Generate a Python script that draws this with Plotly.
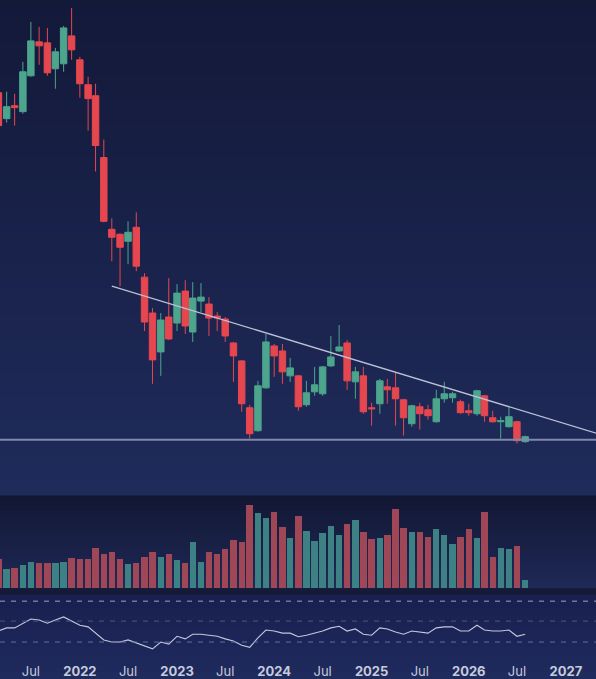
import pandas as pd
import plotly.graph_objects as go

# ---------------- data (monthly candles, Mar 2021 .. Aug 2026) ----------------
MONTHS = pd.date_range("2021-03-01", periods=66, freq="MS")

OPEN = [407, 381, 394, 388, 424, 458, 457, 431, 436, 464, 440, 415, 404, 342, 270, 265,
        258, 272, 222, 186, 147, 182, 176, 208, 167, 198, 195, 183, 180, 156, 138, 91,
        68, 111, 153, 148, 123, 123, 94, 107, 105, 133, 148, 156, 117, 123, 91, 95,
        112, 111, 99, 75, 92, 89, 77, 100, 101, 97, 88, 85, 103, 81, 77, 72, 77, 57]
HIGH = [410, 408, 406, 438, 478, 473, 472, 452, 474, 492, 443, 423, 416, 360, 281, 266,
        278, 287, 226, 191, 186, 221, 215, 219, 217, 216, 202, 187, 182, 157, 139, 94,
        118, 165, 155, 155, 141, 124, 118, 132, 133, 163, 174, 159, 132, 132, 96, 120,
        120, 126, 100, 94, 96, 94, 109, 117, 107, 99, 95, 109, 104, 88, 82, 92, 78, 63]
LOW = [372, 377, 374, 386, 423, 435, 424, 411, 428, 440, 402, 369, 328, 277, 238, 213,
       235, 228, 168, 115, 123, 159, 168, 165, 157, 187, 163, 168, 157, 117, 87, 60,
       67, 110, 122, 115, 117, 88, 92, 103, 103, 132, 147, 109, 100, 85, 73, 85,
       95, 73, 63, 72, 69, 79, 76, 96, 96, 85, 83, 83, 77, 76, 60, 71, 55, 56]
CLOSE = [374, 393, 392, 428, 459, 454, 427, 448, 472, 450, 416, 401, 354, 278, 262, 252,
         267, 233, 177, 139, 179, 160, 206, 173, 201, 202, 181, 181, 163, 143, 95, 65,
         113, 157, 143, 127, 131, 92, 106, 114, 132, 142, 152, 118, 127, 87, 90, 118,
         109, 100, 81, 93, 85, 83, 100, 105, 105, 86, 86, 108, 83, 77, 78, 82, 58, 62]
VOLUME = [29, 19, 20, 23, 26, 25, 25, 25, 26, 30, 29, 29, 40, 34, 36, 29,
          24, 25, 31, 36, 31, 34, 28, 25, 46, 26, 36, 34, 39, 48, 46, 83,
          75, 70, 76, 61, 50, 72, 57, 47, 55, 62, 53, 64, 68, 56, 49, 50,
          53, 79, 60, 56, 56, 51, 59, 53, 44, 51, 59, 50, 76, 31, 40, 39, 42, 8]
RSI = [51, 57, 57, 66, 74, 72, 66, 72, 78, 70, 62, 59, 47, 34, 30, 30,
       34, 28, 22, 17, 30, 26, 41, 36, 45, 45, 43, 41, 36, 32, 24, 20,
       38, 53, 51, 47, 47, 40, 43, 47, 51, 57, 60, 51, 55, 45, 43, 57,
       55, 49, 45, 51, 49, 47, 57, 59, 59, 51, 51, 62, 53, 51, 51, 53, 41, 45]

TREND_DATES = ["2022-05-01", "2027-05-01"]
TREND_PRICES = [213, 65]
SUPPORT = 59
RSI_LEVELS = [70, 30]
RSI_LEVEL_COLORS = ["#4d5787", "#646d98"]

TICK_VALS = ["2021-07-01", "2022-01-01", "2022-07-01", "2023-01-01", "2023-07-01",
             "2024-01-01", "2024-07-01", "2025-01-01", "2025-07-01", "2026-01-01",
             "2026-07-01", "2027-01-01"]
TICK_TEXT = ["Jul", "<b>2022</b>", "Jul", "<b>2023</b>", "Jul", "<b>2024</b>", "Jul",
             "<b>2025</b>", "Jul", "<b>2026</b>", "Jul", "<b>2027</b>"]

# ---------------- style ----------------
W, H = 596, 679
MB = 20
PH = H - MB  # plot area height in px
UP = "#4ca58c"
DOWN = "#e6474f"
VOL_UP = "#3e8184"
VOL_DOWN = "#9f4756"


def py(px):
    """pixel row (from top of the plot area) -> paper fraction"""
    return (PH - px) / PH


X_RANGE = ["2021-03-07", "2027-04-24"]

fig = go.Figure()

fig.add_trace(go.Candlestick(
    x=MONTHS, open=OPEN, high=HIGH, low=LOW, close=CLOSE,
    increasing=dict(line=dict(color=UP, width=1), fillcolor=UP),
    decreasing=dict(line=dict(color=DOWN, width=1), fillcolor=DOWN),
    whiskerwidth=0, xaxis="x", yaxis="y", hoverinfo="skip", showlegend=False,
))

fig.add_trace(go.Scatter(
    x=TREND_DATES, y=TREND_PRICES, mode="lines",
    line=dict(color="#bcc2d6", width=1.3), xaxis="x", yaxis="y",
    hoverinfo="skip", showlegend=False, cliponaxis=True,
))

vol_colors = [VOL_UP if c >= o else VOL_DOWN for o, c in zip(OPEN, CLOSE)]
fig.add_trace(go.Bar(
    x=MONTHS, y=VOLUME, marker=dict(color=vol_colors, line=dict(width=0)),
    width=24 * 86400000, xaxis="x2", yaxis="y2", hoverinfo="skip", showlegend=False,
))

fig.add_trace(go.Scatter(
    x=MONTHS, y=RSI, mode="lines", line=dict(color="#c3c8dc", width=1.1),
    xaxis="x3", yaxis="y3", hoverinfo="skip", showlegend=False,
))

shapes = []


def gradient(top_px, bot_px, c_top, c_bot, n):
    def hx(c):
        c = c.lstrip("#")
        return [int(c[i:i + 2], 16) for i in (0, 2, 4)]
    a, b = hx(c_top), hx(c_bot)
    step = (bot_px - top_px) / n
    for i in range(n):
        t = i / max(n - 1, 1)
        col = "rgb(%d,%d,%d)" % tuple(round(a[j] + (b[j] - a[j]) * t) for j in range(3))
        y0 = top_px + i * step
        y1 = top_px + (i + 1) * step + 0.6
        shapes.append(dict(type="rect", xref="paper", yref="paper", x0=0, x1=1,
                           y0=py(min(y1, bot_px)), y1=py(y0), fillcolor=col,
                           line=dict(width=0), layer="below"))


gradient(0, 497, "#131939", "#1f2b5b", 60)      # price pane
gradient(497, 590, "#121733", "#1e2956", 20)    # volume pane
gradient(590, 597, "#141a37", "#151b39", 1)     # separator strip
gradient(597, 679, "#192050", "#1f2a5d", 16)    # rsi pane

# support line
shapes.append(dict(type="line", xref="paper", yref="y", x0=0, x1=1, y0=SUPPORT, y1=SUPPORT,
                   line=dict(color="#7f89ad", width=2), layer="above"))
# rsi pane separator + levels
shapes.append(dict(type="line", xref="paper", yref="paper", x0=0, x1=1, y0=py(603), y1=py(603),
                   line=dict(color="#9ca3c2", width=1, dash="5px,6px")))
for lv, lc in zip(RSI_LEVELS, RSI_LEVEL_COLORS):
    shapes.append(dict(type="line", xref="paper", yref="y3", x0=0, x1=1, y0=lv, y1=lv,
                       line=dict(color=lc, width=1, dash="5px,6px")))

axis_common = dict(showgrid=False, zeroline=False, showline=False,
                   range=X_RANGE, type="date", fixedrange=True)

fig.update_layout(
    width=W, height=H,
    margin=dict(l=0, r=0, t=0, b=MB, pad=0),
    paper_bgcolor="#1f2a5d", plot_bgcolor="rgba(0,0,0,0)",
    showlegend=False, boxgap=0.07, boxgroupgap=0.07, bargap=0,
    font=dict(family="Inter, Roboto, sans-serif", color="#c6cbdc", size=13),
    xaxis=dict(**axis_common, ticks="", anchor="y", showticklabels=False,
               rangeslider=dict(visible=False)),
    xaxis2=dict(**axis_common, ticks="", anchor="y2", showticklabels=False, matches="x"),
    xaxis3=dict(**axis_common, anchor="y3", matches="x", showticklabels=True,
                ticks="outside", ticklen=2, tickcolor="rgba(0,0,0,0)",
                tickmode="array", tickvals=TICK_VALS, ticktext=TICK_TEXT,
                tickfont=dict(size=13, color="#c6cbdc")),
    yaxis=dict(domain=[py(497), 1], range=[3, 500], visible=False, fixedrange=True),
    yaxis2=dict(domain=[py(590), py(497)], range=[0, 93], visible=False, fixedrange=True),
    yaxis3=dict(domain=[0, py(597)], range=[1.4, 119.5], visible=False, fixedrange=True),
    shapes=shapes,
)

fig.write_html(
    "out.html",
    config=dict(displayModeBar=False, staticPlot=True),
    post_script="document.body.style.margin='0';document.body.style.overflow='hidden';"
                "document.body.style.background='#1f2a5d';",
)
